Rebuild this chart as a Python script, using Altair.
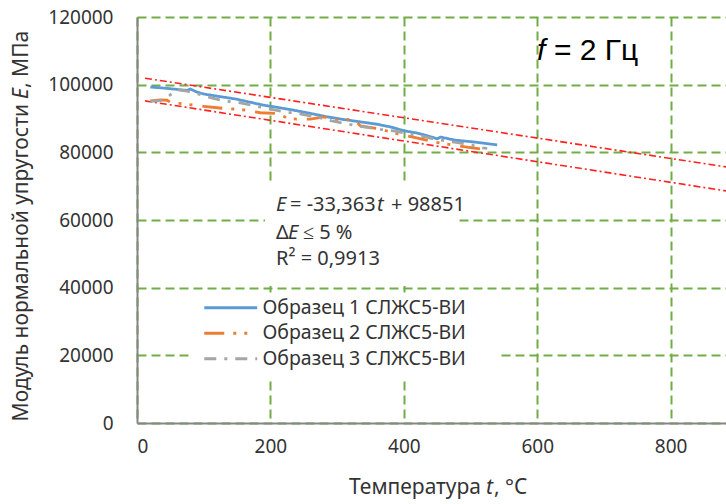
import altair as alt
import pandas as pd

# Measured elastic modulus E (MPa) against temperature t (°C), f = 2 Hz
names = ["Образец 1 СЛЖС5-ВИ", "Образец 2 СЛЖС5-ВИ", "Образец 3 СЛЖС5-ВИ"]
colors = ["#5B9BD5", "#ED7D31", "#A5A5A5"]
dashes = [[1, 0], [20, 9, 3, 8, 3, 10], [12, 8, 3, 8]]

t1 = [20, 40, 60, 75, 80, 90, 100, 120, 147, 170, 188, 210, 234, 260, 285,
      310, 335, 360, 380, 402, 420, 437, 450, 455, 477, 503, 520, 540]
e1 = [99300, 99000, 98600, 98300, 98700, 97800, 97250, 96600, 95800, 94800,
      94000, 93300, 92500, 91500, 90500, 89700, 89000, 88300, 87500, 86300,
      85700, 84800, 84000, 84500, 83600, 83100, 82700, 82200]

t2 = [20, 35, 45, 52, 68, 84, 100, 129, 147, 162, 185, 210, 227, 242, 260,
      280, 300, 325, 335, 365, 383, 414, 447, 462, 492, 525]
e2 = [95200, 95500, 95400, 94600, 94400, 94000, 93600, 93000, 92800, 92500,
      91700, 91500, 90000, 89800, 89800, 90500, 89500, 89800, 87800, 86900,
      85800, 84500, 83000, 82500, 81600, 80700]

t3 = [20, 35, 48, 60, 72, 100, 113, 131, 155, 177, 200, 220, 246, 270, 292,
      315, 340, 365, 387, 410, 434, 446, 476, 496, 518, 525]
e3 = [95100, 95300, 96700, 98500, 98200, 96800, 96000, 95200, 94600, 93700,
      92800, 92000, 91300, 90400, 89300, 88400, 87500, 86800, 86300, 85300,
      84500, 83900, 83000, 82400, 81300, 81200]

# Bounding lines of the ±5 % scatter band
band_t = [12, 883]
band_upper = [101900, 75700]
band_lower = [95200, 68600]

x_ticks = [0, 200, 400, 600, 800]
y_ticks = [0, 20000, 40000, 60000, 80000, 100000, 120000]

FONT = "Noto Sans"
TXT = "#333333"

rows = []
for name, ts, es in zip(names, [t1, t2, t3], [e1, e2, e3]):
    for i, (t, e) in enumerate(zip(ts, es)):
        rows.append({"series": name, "t": t, "E": e, "order": i})
samples = pd.DataFrame(rows)

band = pd.DataFrame(
    [{"bound": "upper", "t": t, "E": e} for t, e in zip(band_t, band_upper)]
    + [{"bound": "lower", "t": t, "E": e} for t, e in zip(band_t, band_lower)]
)

xs = alt.Scale(domain=[0, 883], nice=False, zero=True)
ys = alt.Scale(domain=[0, 120000], nice=False)

x_axis = alt.Axis(values=x_ticks, title=None, grid=True, ticks=False,
                  labelPadding=14, format="d")
y_axis = alt.Axis(values=y_ticks, title=None, grid=True, ticks=False,
                  labelPadding=24, format="d")

one = pd.DataFrame({"k": [0]})

# white panels behind the regression note and the legend
note_bg = alt.Chart(one).mark_rect(color="white").encode(
    x=alt.value(128), x2=alt.value(321), y=alt.value(167), y2=alt.value(269)
)
legend_bg = alt.Chart(one).mark_rect(color="white").encode(
    x=alt.value(53), x2=alt.value(360), y=alt.value(276), y2=alt.value(360)
)

band_layer = alt.Chart(band).mark_line(
    color="#FF2020", strokeWidth=1.6, strokeDash=[7, 3, 2, 3], clip=True
).encode(
    x=alt.X("t:Q", scale=xs, axis=x_axis),
    y=alt.Y("E:Q", scale=ys, axis=y_axis),
    detail="bound:N",
)

lines = alt.Chart(samples).mark_line(strokeWidth=2.8).encode(
    x=alt.X("t:Q", scale=xs),
    y=alt.Y("E:Q", scale=ys),
    order="order:Q",
    color=alt.Color("series:N", scale=alt.Scale(domain=names, range=colors), title=None),
    strokeDash=alt.StrokeDash("series:N", scale=alt.Scale(domain=names, range=dashes), title=None),
)


def label(text, x, y, size=20, italic=False, font=FONT, color=TXT,
          align="left", angle=0):
    kw = dict(text=text, font=font, fontSize=size, color=color, align=align,
              baseline="middle", angle=angle)
    if italic:
        kw["fontStyle"] = "italic"
    return alt.Chart(one).mark_text(**kw).encode(x=alt.value(x), y=alt.value(y))


texts = [
    # regression equation
    label("E", 139, 188, italic=True),
    label("= -33,363", 153, 188),
    label("t", 240, 188, italic=True),
    label("+ 98851", 254, 188),
    label("Δ", 139, 216),
    label("E", 151, 216, italic=True),
    label("≤ 5 %", 166, 216),
    label("R² = 0,9913", 139, 242),
    # frequency
    label("f", 400, 34, size=30, italic=True, font="Liberation Sans", color="#000000"),
    label("= 2 Гц", 417, 34, size=30, font="Liberation Sans", color="#000000"),
    # x-axis title
    label("Температура", 344, 471, size=21, align="right"),
    label("t", 349, 471, size=21, italic=True),
    label(", °C", 357, 471, size=21),
    # y-axis title
    label("Модуль нормальной упругости", -115, 87, size=21, align="right", angle=270),
    label("E", -115, 82, size=21, italic=True, angle=270),
    label(", МПа", -115, 71, size=21, angle=270),
]

chart = alt.layer(note_bg, legend_bg, band_layer, lines, *texts).properties(
    width=589,
    height=406,
    autosize=alt.AutoSizeParams(type="none"),
    padding={"left": 137, "top": 17, "right": 0, "bottom": 81},
    background="white",
).configure_view(
    stroke=None
).configure_axis(
    labelFont=FONT,
    labelFontSize=19,
    labelColor=TXT,
    gridColor="#70AD47",
    gridDash=[9, 5],
    gridWidth=2,
    domainColor="#868686",
    domainWidth=2,
).configure_legend(
    orient="none",
    legendX=84,
    legendY=281,
    padding=0,
    symbolType="M-5,0H5",
    symbolSize=112,
    symbolStrokeWidth=2.8,
    labelFont=FONT,
    labelFontSize=19.5,
    labelColor=TXT,
    labelOffset=22,
    rowPadding=4.5,
    labelLimit=400,
)

chart.save("out.html", embed_options={"renderer": "svg", "actions": False})
